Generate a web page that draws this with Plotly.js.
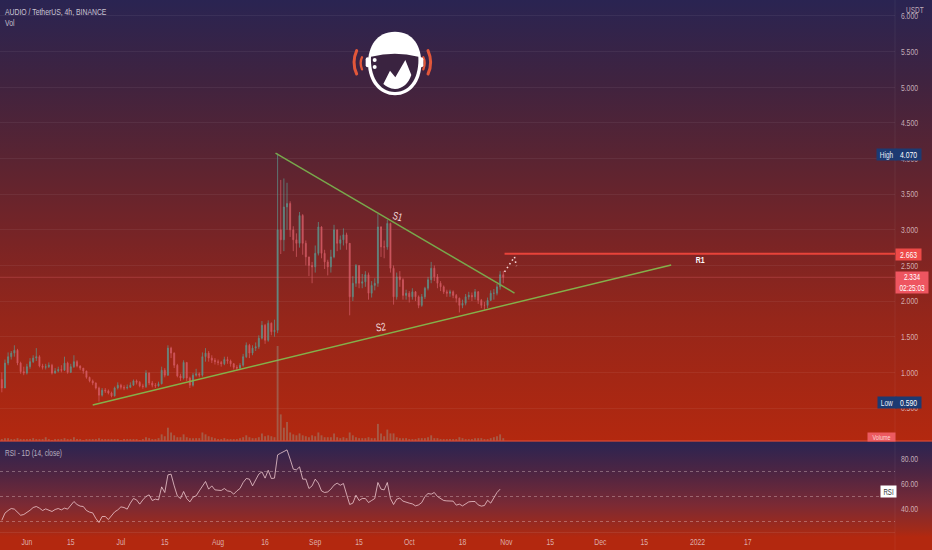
<!DOCTYPE html>
<html><head><meta charset="utf-8">
<script src="https://cdn.plot.ly/plotly-3.0.1.min.js"></script>
<style>
html,body{margin:0;padding:0;width:932px;height:550px;overflow:hidden;background:#b3280f}
#bg1{position:absolute;left:0;top:0;width:932px;height:441px;background:linear-gradient(180deg,#2a2452 0%,#3f2340 18%,#5a2432 36%,#7a2425 55%,#95261a 72%,#b3280f 100%)}
#bg2{position:absolute;left:0;top:441px;width:932px;height:109px;background:linear-gradient(180deg,#2a2452 0%,#4f2542 30%,#7a2a35 58%,#a32a18 82%,#b3280f 88%,#b3280f 100%)}
#chart{position:absolute;left:0;top:0;width:932px;height:550px}
</style></head><body>
<div id="bg1"></div><div id="bg2"></div><div id="chart"></div>
<script>
const firstDay = [2021, 4, 24];
const closes = [.78,1.13,1.22,1.27,1.31,1.13,1.01,.99,
1.08,1.15,1.2,1.22,1.09,1.07,1.08,1.10,.99,1.02,
1.04,1.03,1.13,1.0,1.08,1.15,1.09,1.06,1.02,.93,
.88,.85,.78,.68,.75,.74,.71,.67,.78,.82,
.79,.78,.79,.82,.88,.86,.81,.80,.99,.85,
.82,.81,.84,1.03,.96,1.34,1.27,1.10,.95,.92,
1.14,.92,.82,.96,.98,.96,1.22,1.27,1.20,1.17,
1.15,1.14,1.12,1.18,1.16,1.12,1.07,1.06,1.10,1.22,
1.38,1.27,1.34,1.36,1.48,1.66,1.45,1.69,1.57,1.59,
3.0,2.86,3.32,3.37,3.0,2.86,2.81,3.2,2.81,2.62,
2.5,2.48,2.67,3.04,2.67,2.55,2.48,2.62,3.0,2.81,
2.86,2.93,2.81,2.06,2.25,2.5,2.25,2.27,2.37,2.11,
2.22,2.25,3.04,2.76,2.76,3.09,2.46,2.06,2.34,2.3,
2.08,2.11,2.06,2.13,2.06,1.94,2.06,2.18,2.3,2.46,
2.34,2.25,2.2,2.13,2.11,2.13,2.08,2.04,1.94,1.97,
2.06,2.08,2.06,2.13,2.01,1.94,1.94,2.01,2.11,2.11,
2.2,2.37,2.334];
const highs = [1.0,1.18,1.28,1.3,1.38,1.33,1.15,1.08,
1.12,1.2,1.24,1.34,1.24,1.12,1.12,1.14,1.12,1.06,
1.08,1.1,1.22,1.15,1.12,1.24,1.17,1.1,1.06,1.0,
.94,.9,.86,.8,.78,.78,.76,.73,.8,.86,
.84,.82,.83,.86,.9,.9,.88,.84,1.03,1.0,
.88,.85,.87,1.08,1.06,1.38,1.36,1.28,1.12,.98,
1.17,1.14,.94,.99,1.05,1.0,1.28,1.34,1.3,1.24,
1.2,1.18,1.16,1.22,1.22,1.18,1.13,1.1,1.13,1.26,
1.42,1.4,1.38,1.42,1.52,1.72,1.68,1.73,1.7,1.74,
4.07,3.7,3.72,3.66,3.4,3.05,2.95,3.25,3.22,2.85,
2.62,2.55,2.78,3.11,3.05,2.72,2.58,2.72,3.07,3.0,
2.92,3.02,2.96,2.8,2.35,2.52,2.5,2.38,2.42,2.4,
2.28,2.32,3.22,3.05,2.85,3.14,3.1,2.5,2.4,2.42,
2.32,2.16,2.14,2.18,2.14,2.08,2.1,2.2,2.34,2.55,
2.5,2.38,2.28,2.22,2.16,2.16,2.15,2.1,2.05,2.02,
2.1,2.13,2.12,2.17,2.14,2.03,1.99,2.05,2.15,2.17,
2.24,2.42,2.42];
const lows = [.72,.78,1.1,1.18,1.22,1.1,.98,.96,
.97,1.05,1.13,1.16,1.07,1.04,1.04,1.06,.97,.98,
1.0,1.0,1.02,.98,.99,1.06,1.07,1.03,.98,.91,
.86,.82,.76,.59,.66,.71,.69,.65,.66,.76,
.76,.75,.76,.78,.81,.83,.79,.77,.78,.82,
.79,.78,.8,.83,.93,.95,1.2,1.06,.93,.88,
.9,.88,.78,.8,.94,.93,.94,1.15,1.15,1.13,
1.11,1.1,1.08,1.1,1.12,1.08,1.04,1.02,1.03,1.08,
1.2,1.2,1.24,1.3,1.33,1.46,1.4,1.43,1.52,1.5,
1.55,2.66,2.7,3.0,2.9,2.7,2.62,2.75,2.65,2.5,
2.35,2.25,2.4,2.64,2.6,2.45,2.36,2.4,2.6,2.7,
2.72,2.78,2.72,1.8,2.0,2.2,2.18,2.18,2.2,2.02,
2.05,2.15,2.2,2.62,2.6,2.72,2.4,1.95,2.02,2.2,
2.02,2.02,1.98,2.02,2.0,1.9,1.92,2.03,2.15,2.25,
2.28,2.18,2.14,2.1,2.06,2.06,2.04,1.98,1.84,1.9,
1.94,2.02,2.0,2.02,1.96,1.9,1.88,1.9,2.0,2.02,
2.08,2.16,2.25];
const volumes = [2,3,3,2,2,3,2,2,
2,2,3,2,2,2,4,2,1,2,
2,2,3,2,2,4,2,2,1,2,
2,2,2,3,2,2,2,2,2,2,
1,2,2,2,2,2,1,2,4,3,
2,2,3,7,5,14,9,6,4,4,
7,4,3,3,3,3,9,7,5,4,
3,2,2,3,2,2,2,2,3,4,
6,4,3,3,4,8,5,6,5,4,
100,28,14,20,9,7,6,8,6,5,
4,6,5,9,6,4,4,4,8,4,
3,4,3,9,6,4,3,3,3,4,
3,3,18,8,5,12,8,8,4,3,
3,3,2,2,2,3,3,3,4,6,
3,3,2,2,2,2,2,2,4,3,
2,2,2,3,3,3,2,2,3,4,
5,7,3];
const rsi = [31,36.7,38.8,40.4,39.9,37.2,35,35.6,
37.2,39,41.2,42,40.7,38.8,40.1,38.8,38,39.6,
40.4,39.3,40.7,39.9,43.1,46,43.6,42.3,42,38.8,
37.5,36.9,32.4,29.2,34,34,31.6,34.8,37.7,39.3,
41.7,41.2,39.9,44.7,48.4,47.3,43.9,47.3,50,51.3,
46.8,47.9,47.3,57.7,53.2,67.3,67.9,58.5,50.5,48.4,
54,48.4,45.7,49.5,50.5,54.5,58.5,62,55.9,58.5,
55.3,54.8,54.8,56.4,54.5,54,51.9,54.5,56.4,61.2,
64.4,63.9,58.5,63.3,67.9,69.7,64.7,71,64.4,64.7,
83.3,84.7,86,87.3,79.9,71.9,71.3,73.7,63.9,63.9,
56.4,58.5,63.9,60.7,54.5,53.2,53.7,55.9,59.1,60.7,
59,60.4,51.9,43.6,44.7,51,46.8,48.4,48.4,45.2,
46.8,48.4,61.2,55.9,55.3,61.2,48.4,43.6,47.9,48.7,
46.3,45.2,44.7,44.1,42.5,43.3,45.2,50,52.4,51.9,
53.2,50,48.7,46.8,46.5,46.5,46.3,43.1,43.9,42.5,
44.4,45.7,46,46,43.3,42.3,42.8,47,44.7,49.2,
53.2,55.9];

const s1Dates = ['2021-08-19 08:00','2021-11-03 14:00'];
const s1Prices = [4.076,2.113];
const s2Dates = ['2021-06-22 00:00','2021-12-23 14:00'];
const s2Prices = [0.542,2.506];
const r1Dates = ['2021-10-31 10:00','2022-03-05 00:00'];
const r1Prices = [2.663,2.663];
const projDates = ['2021-10-31 10:00','2021-11-03 14:00','2021-11-04 05:00'];
const projPrices = [2.41,2.62,2.49];

const xTickDates = ['2021-06-01','2021-06-15','2021-07-01','2021-07-15','2021-08-01','2021-08-16','2021-09-01','2021-09-15','2021-10-01','2021-10-18','2021-11-01','2021-11-15','2021-12-01','2021-12-15','2022-01-01','2022-01-17'];
const xTickLabels = ['Jun','15','Jul','15','Aug','16','Sep','15','Oct','18','Nov','15','Dec','15','2022','17'];
const priceTicks = [0.5,1,1.5,2,2.5,3,3.5,4,4.5,5,5.5,6];
const rsiTicks = [40,60,80];
const rsiBands = [70,50,30];
const lastPrice = 2.334;

const days = closes.map((_, i) => new Date(Date.UTC(firstDay[0], firstDay[1], firstDay[2] + i)).toISOString().slice(0, 10));
const opens = closes.map((c, i) => i === 0 ? 0.9 : closes[i - 1]);

const FONT = '"Liberation Sans", sans-serif';
const TICK = 'rgba(232,214,218,0.78)';
const W = 932, H = 550, PX = 895;
const px = v => v / W, py = v => 1 - v / H;

function label(text, x, y, o) {
  return Object.assign({text, xref:'paper', yref:'paper', x:px(x), y:py(y), xanchor:'left', yanchor:'middle',
    showarrow:false, borderpad:0, font:{family:FONT, size:9.5, color:TICK}}, o || {});
}

const logoSvg = `<svg xmlns="http://www.w3.org/2000/svg" viewBox="0 0 300 270" width="300" height="270">
<g fill="none" stroke="#e2573a" stroke-linecap="round">
<path d="M50 92 Q34 128 50 162" stroke-width="9"/><path d="M66 112 Q58 128 66 148" stroke-width="7"/>
<path d="M264 92 Q280 128 264 162" stroke-width="9"/><path d="M250 112 Q258 128 250 148" stroke-width="7"/></g>
<rect x="77" y="112" width="12" height="30" rx="6" fill="#fff"/><rect x="238" y="112" width="12" height="30" rx="6" fill="#fff"/>
<path d="M165 35 C110 35 84 80 84 130 C84 185 118 226 165 226 C212 226 244 185 244 130 C244 80 220 35 165 35Z" fill="#fff"/>
<path d="M93 110 Q165 92 235 110 C238 165 215 215 165 216 C115 215 90 165 93 110Z" fill="#3a2340"/>
<circle cx="104" cy="120" r="6" fill="#fff"/><circle cx="104" cy="141" r="6" fill="#fff"/>
<path d="M130 192 L150 152 L166 172 L196 120 L214 165 C205 190 190 206 165 207 C150 206 138 200 130 192Z" fill="#fff"/>
</svg>`;

const traces = [
  {type:'candlestick', x:days, open:opens, high:highs, low:lows, close:closes, xaxis:'x', yaxis:'y', opacity:0.85,
   increasing:{line:{color:'#5c9c94', width:0.8}, fillcolor:'#5c9c94'},
   decreasing:{line:{color:'#d9606a', width:0.8}, fillcolor:'#d9606a'}, whiskerwidth:0, hoverinfo:'skip'},
  {type:'bar', x:days, y:volumes, xaxis:'x', yaxis:'y3', marker:{color:'rgba(150,160,145,0.42)', line:{width:0}}, hoverinfo:'skip'},
  {type:'scatter', mode:'lines', x:s1Dates, y:s1Prices, xaxis:'x', yaxis:'y', line:{color:'#78a84c', width:1.5}, hoverinfo:'skip'},
  {type:'scatter', mode:'lines', x:s2Dates, y:s2Prices, xaxis:'x', yaxis:'y', line:{color:'#84b04a', width:1.5}, hoverinfo:'skip'},
  {type:'scatter', mode:'lines', x:r1Dates, y:r1Prices, xaxis:'x', yaxis:'y', line:{color:'#e8433a', width:2}, hoverinfo:'skip'},
  {type:'scatter', mode:'lines', x:projDates, y:projPrices, xaxis:'x', yaxis:'y', line:{color:'#f8dcdc', width:1.6, dash:'1.5px,3px'}, hoverinfo:'skip'},
  {type:'scatter', mode:'lines', x:days, y:rsi, xaxis:'x', yaxis:'y2', line:{color:'rgba(245,210,215,0.75)', width:1}, hoverinfo:'skip'}
];

const shapes = [
  {type:'line', xref:'paper', yref:'paper', x0:0, x1:1, y0:py(441), y1:py(441), line:{color:'rgba(215,70,50,0.85)', width:1.5}},
  {type:'line', xref:'x domain', yref:'y', x0:0, x1:1, y0:lastPrice, y1:lastPrice, line:{color:'rgba(240,110,120,0.3)', width:1}},
  {type:'line', xref:'paper', yref:'paper', x0:px(PX), x1:px(PX), y0:0, y1:1, line:{color:'rgba(255,255,255,0.06)', width:1}}
].concat(rsiBands.map(v => ({type:'line', xref:'x domain', yref:'y2', x0:0, x1:1, y0:v, y1:v,
  line:{color:'rgba(240,215,215,0.35)', width:1, dash:'3px,3px'}})));

const leftLabels = ['AUDIO / TetherUS, 4h, BINANCE', 'Vol', 'RSI - 1D (14, close)', 'USDT'];
const annotations = [
  label(leftLabels[0], 4, 11, {font:{family:FONT, size:9.5, color:'rgba(230,225,235,0.85)'}}),
  label(leftLabels[1], 4, 22, {font:{family:FONT, size:9.5, color:'rgba(230,225,235,0.8)'}}),
  label(leftLabels[2], 4, 453, {font:{family:FONT, size:9, color:'rgba(230,225,235,0.72)'}}),
  label(leftLabels[3], 905, 10, {font:{family:FONT, size:9, color:TICK}}),
  label('S1', 397, 216, {xanchor:'center', textangle:15, font:{family:FONT, size:11, color:'#f4dede'}}),
  label('S2', 380, 327, {xanchor:'center', textangle:-8, font:{family:FONT, size:11, color:'#f4dede'}}),
  label('<b>R1</b>', 700, 260, {xanchor:'center', font:{family:FONT, size:9.5, color:'#fff'}}),
  label('High', 886, 154, {xanchor:'center', width:19, height:11, bgcolor:'#1c3a72', font:{family:FONT, size:9, color:'#e8ecf6'}}),
  label('4.070', 908, 154, {xanchor:'center', width:25, height:11, bgcolor:'#1c3a72', font:{family:FONT, size:9.5, color:'#fff'}}),
  label('Low', 886.5, 402, {xanchor:'center', width:18, height:11, bgcolor:'#1c3a72', font:{family:FONT, size:9, color:'#e8ecf6'}}),
  label('0.590', 908, 402, {xanchor:'center', width:25, height:11, bgcolor:'#1c3a72', font:{family:FONT, size:9.5, color:'#fff'}}),
  label('2.663', 908, 254.5, {xanchor:'center', width:25, height:11, bgcolor:'#ee4a48', font:{family:FONT, size:9.5, color:'#fff'}}),
  label('2.334<br>02:25:03', 911.5, 282, {xanchor:'center', width:32, height:21, bgcolor:'#ee5560', font:{family:FONT, size:9, color:'#fff'}}),
  label('Volume', 881, 437, {xanchor:'center', width:27, height:8, bgcolor:'#ec5a60', font:{family:FONT, size:7.5, color:'#fbd8d8'}}),
  label('RSI', 888, 491, {xanchor:'center', width:15, height:11, bgcolor:'#ffffff', font:{family:FONT, size:8.5, color:'#333'}})
];

const layout = {
  width:W, height:H, margin:{l:0, r:0, t:0, b:0}, autosize:false,
  paper_bgcolor:'rgba(0,0,0,0)', plot_bgcolor:'rgba(0,0,0,0)', showlegend:false, bargap:0.4, boxgap:0.55,
  font:{family:FONT, size:9.5, color:TICK},
  xaxis:{type:'date', domain:[0, PX / W], anchor:'y2', range:['2021-05-23 10:00','2022-03-05 00:00'],
    tickmode:'array', tickvals:xTickDates, ticktext:xTickLabels, showgrid:false, zeroline:false,
    showline:true, linecolor:'rgba(255,255,255,0.08)', ticks:'outside', ticklen:1, tickcolor:'rgba(0,0,0,0)',
    tickfont:{family:FONT, size:9.5, color:TICK}, rangeslider:{visible:false}, fixedrange:true},
  yaxis:{domain:[1 - 441 / H, 1], range:[0.037, 6.224], side:'right', anchor:'x', tickmode:'array', tickvals:priceTicks,
    tickformat:'.3f', gridcolor:'rgba(255,255,255,0.06)', gridwidth:1, zeroline:false, showline:false,
    ticks:'outside', ticklen:3, tickcolor:'rgba(0,0,0,0)', tickfont:{family:FONT, size:9.5, color:TICK}, fixedrange:true},
  yaxis2:{domain:[1 - 532 / H, 1 - 441 / H], range:[21.6, 94.4], side:'right', anchor:'x', tickmode:'array', tickvals:rsiTicks,
    tickformat:'.2f', showgrid:false, zeroline:false, showline:false,
    ticks:'outside', ticklen:3, tickcolor:'rgba(0,0,0,0)', tickfont:{family:FONT, size:9.5, color:TICK}, fixedrange:true},
  yaxis3:{overlaying:'y', side:'right', range:[0, 464], visible:false, fixedrange:true},
  shapes, annotations,
  images:[{source:'data:image/svg+xml;charset=utf-8,' + encodeURIComponent(logoSvg), xref:'paper', yref:'paper',
    x:px(340), y:py(20), sizex:100/W, sizey:90/H, sizing:'stretch', xanchor:'left', yanchor:'top', layer:'above'}]
};
Plotly.newPlot('chart', traces, layout, {displayModeBar:false, staticPlot:true}).then(() => {
  // The reference uses a narrow face; squeeze the glyphs horizontally.
  const squeeze = 0.72;
  document.querySelectorAll('#chart svg text').forEach(t => {
    const lines = t.querySelectorAll('tspan.line');
    const isLeft = leftLabels.includes(t.textContent);
    (lines.length ? Array.from(lines) : [t]).forEach(el => {
      const len = el.getComputedTextLength();
      if (len > 0) {
        el.setAttribute('textLength', (len * squeeze).toFixed(1));
        el.setAttribute('lengthAdjust', 'spacingAndGlyphs');
        if (isLeft) el.setAttribute('x', (parseFloat(el.getAttribute('x')) - len * (1 - squeeze) / 2).toFixed(1));
      }
    });
  });
});
</script>
</body></html>
